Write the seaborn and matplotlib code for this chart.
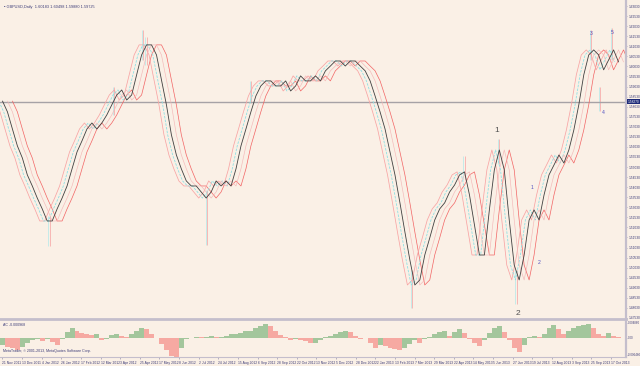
import numpy as np
import pandas as pd
import matplotlib
matplotlib.use("Agg")
import matplotlib.pyplot as plt
import matplotlib.transforms as mtransforms
import seaborn as sns

# ---------------- data ----------------
# middle (black) line, one value every 4 daily bars
price = [1.5831, 1.5777, 1.5692, 1.5608, 1.5548, 1.5464, 1.5409, 1.5349, 1.5295, 1.5235,
         1.5235, 1.5295, 1.5349, 1.5409, 1.5494, 1.5578, 1.5633, 1.5692, 1.5722, 1.5692,
         1.5722, 1.5762, 1.5812, 1.5861, 1.5886, 1.5836, 1.5861, 1.5961, 1.6060, 1.6110,
         1.6110, 1.6060, 1.5936, 1.5812, 1.5663, 1.5563, 1.5494, 1.5434, 1.5409, 1.5409,
         1.5379, 1.5349, 1.5379, 1.5434, 1.5409, 1.5434, 1.5409, 1.5494, 1.5608, 1.5692,
         1.5777, 1.5856, 1.5906, 1.5931, 1.5931, 1.5906, 1.5906, 1.5931, 1.5881, 1.5906,
         1.5956, 1.5931, 1.5931, 1.5956, 1.5931, 1.5981, 1.6005, 1.6030, 1.6030, 1.6005,
         1.6030, 1.6030, 1.6005, 1.5981, 1.5931, 1.5856, 1.5777, 1.5692, 1.5578, 1.5464,
         1.5325, 1.5180, 1.5041, 1.4917, 1.4942, 1.5066, 1.5151, 1.5240, 1.5295, 1.5325,
         1.5379, 1.5414, 1.5464, 1.5479, 1.5364, 1.5215, 1.5066, 1.5066, 1.5290, 1.5489,
         1.5588, 1.5489, 1.5240, 1.5016, 1.4942, 1.5066, 1.5240, 1.5290, 1.5240, 1.5364,
         1.5464, 1.5513, 1.5563, 1.5523, 1.5588, 1.5687, 1.5812, 1.5961, 1.6060, 1.6085,
         1.6060, 1.5986, 1.6035, 1.6085, 1.6025]

# long wicks seen as thin vertical strokes: bar, high, low
spike_bar = [38, 90, 113, 116, 165, 200, 330, 372, 400, 414, 474, 481, 491]
spike_high = [1.5260, 1.5900, 1.6184, 1.6150, 1.5389, 1.5930, 1.4992, 1.5560, 1.5640, 1.4992, 1.6184, 1.5900, 1.6194]
spike_low = [1.5110, 1.5760, 1.6035, 1.6010, 1.5116, 1.5820, 1.4803, 1.5440, 1.5520, 1.4823, 1.6035, 1.5780, 1.6035]

# Accelerator Oscillator (AC) histogram, same spacing
ac = [-0.00259, -0.00324, -0.00356, -0.00421, -0.00324, -0.00194, -0.00097, -0.00065, -0.00130, -0.00065,
      -0.00162, -0.00259, -0.00032, 0.00194, 0.00324, 0.00227, 0.00162, 0.00130, 0.00097, 0.00130,
      -0.00097, -0.00065, 0.00097, 0.00130, 0.00065, 0.00010, 0.00130, 0.00227, 0.00324, 0.00292,
      0.00130, -0.00010, -0.00227, -0.00421, -0.00616, -0.00648, -0.00356, -0.00065, -0.00010, 0.00032,
      0.00010, 0.00032, 0.00065, 0.00032, 0.00032, 0.00065, 0.00130, 0.00130, 0.00162, 0.00227,
      0.00227, 0.00324, 0.00389, 0.00454, 0.00389, 0.00227, 0.00097, 0.00010, -0.00097, -0.00065,
      -0.00097, -0.00130, -0.00194, -0.00194, -0.00097, 0.00010, 0.00065, 0.00130, 0.00194, 0.00227,
      0.00194, 0.00065, -0.00032, -0.00010, -0.00194, -0.00356, -0.00259, -0.00292, -0.00356, -0.00389,
      -0.00421, -0.00356, -0.00227, -0.00097, -0.00194, -0.00065, 0.00032, 0.00130, 0.00194, 0.00227,
      0.00065, 0.00194, 0.00292, 0.00162, -0.00032, -0.00194, -0.00292, -0.00097, 0.00162, 0.00324,
      0.00389, 0.00194, -0.00097, -0.00356, -0.00486, -0.00259, 0.00010, 0.00065, 0.00010, 0.00130,
      0.00324, 0.00421, 0.00292, 0.00130, 0.00227, 0.00324, 0.00389, 0.00421, 0.00454, 0.00324,
      0.00130, 0.00065, 0.00162, 0.00065, 0.00010]

date_labels = ["21 Nov 2011", "13 Dec 2011", "4 Jan 2012", "26 Jan 2012", "17 Feb 2012",
               "12 Mar 2012", "3 Apr 2012", "25 Apr 2012", "17 May 2012", "8 Jun 2012",
               "2 Jul 2012", "24 Jul 2012", "15 Aug 2012", "6 Sep 2012", "28 Sep 2012",
               "22 Oct 2012", "13 Nov 2012", "5 Dec 2012", "28 Dec 2012", "22 Jan 2013",
               "13 Feb 2013", "7 Mar 2013", "29 Mar 2013", "22 Apr 2013", "14 May 2013",
               "5 Jun 2013", "27 Jun 2013", "19 Jul 2013", "12 Aug 2013", "3 Sep 2013",
               "25 Sep 2013", "17 Oct 2013"]

price_ticks = [1.47530, 1.48030, 1.48530, 1.49030, 1.49530, 1.50030, 1.50530, 1.51030,
               1.51530, 1.52030, 1.52530, 1.53030, 1.53530, 1.54030, 1.54530, 1.55030,
               1.55530, 1.56030, 1.56530, 1.57030, 1.57530, 1.58030, 1.58530, 1.59030,
               1.59530, 1.60030, 1.60530, 1.61030, 1.61530, 1.62030, 1.62530, 1.63030]
ac_ticks = [0.004860, 0.0, -0.005800]
ac_tick_labels = ["0.004860", "0.00", "-0.006480"]
bid = 1.58270

# wave labels (text, bar, price)
big_labels = [("1", 398, 1.5685), ("2", 415, 1.4776)]
small_labels = [("1", 426, 1.5399), ("2", 432, 1.5031), ("3", 474, 1.6169),
                ("4", 484, 1.5772), ("5", 491, 1.6174)]

# ---------------- style ----------------
BG = "#FAF0E6"
AXC = "#C4BECC"
TXT = "#3C3C78"
sns.set_theme(style="white", rc={"axes.facecolor": BG, "figure.facecolor": BG})
plt.rcParams["font.family"] = ["Liberation Sans", "DejaVu Sans"]

W, H = 640, 366
fig = plt.figure(figsize=(W / 100, H / 100), dpi=100, facecolor=BG)
ax = fig.add_axes([0, (H - 319) / H, 626 / W, 319 / H])
ax2 = fig.add_axes([0, (H - 357) / H, 626 / W, 36 / H], sharex=ax)

bars = np.arange(len(price)) * 4
df = pd.DataFrame({"bar": bars, "price": price})

# wicks
ax.vlines(spike_bar, spike_low, spike_high, colors="#F6A0A0", linewidth=0.5, zorder=1)
ax.vlines(np.array(spike_bar) - 1, spike_low, spike_high, colors="#9EE6EA",
          linewidth=0.4, zorder=1)

# shifted copies (Alligator-like lines)
line_specs = [
    (8, "#F26464", "-", 0.5),
    (-6, "#F8A4A4", "-", 0.55),
    (-3, "#8FE0E4", (0, (3, 1.5)), 0.6),
    (4, "#F4B8B8", "-", 0.45),
    (0, "#404040", "-", 0.6),
]
for shift, col, ls, lw in line_specs:
    d = df.assign(bar=df["bar"] + shift)
    sns.lineplot(data=d, x="bar", y="price", color=col, linewidth=lw,
                 linestyle=ls, ax=ax, legend=False)

ax.axhline(bid, color="#A6A2A6", lw=1.0, zorder=1)

for t, b, p in big_labels:
    ax.text(b, p, t, fontsize=6, color="#505050", ha="center", va="center")
for t, b, p in small_labels:
    ax.text(b, p, t, fontsize=3.6, color="#5050C0", ha="center", va="center")

ax.set_xlim(-2, 502)
ax.set_ylim(1.4748, 1.6333)
ax.set_xlabel("")
ax.set_ylabel("")
ax.yaxis.tick_right()
ax.set_yticks(price_ticks)
ax.set_yticklabels([f"{v:.5f}" for v in price_ticks])
ax.tick_params(axis="y", right=True, length=1.0, width=0.4, color="#8080A0",
               labelsize=2.3, labelcolor=TXT, pad=0.6)
ax.tick_params(axis="x", bottom=False, labelbottom=False)
for s in ["top", "left"]:
    ax.spines[s].set_visible(False)
ax.spines["right"].set_color(AXC)
ax.spines["right"].set_linewidth(1.6)
ax.spines["bottom"].set_color(AXC)
ax.spines["bottom"].set_linewidth(2.0)

# bid label box
tr = mtransforms.blended_transform_factory(ax.transAxes, ax.transData)
ax.text(1.002, bid, f"{bid:.5f}", transform=tr, fontsize=2.3, color="white",
        va="center", ha="left", clip_on=False,
        bbox=dict(boxstyle="square,pad=0.2", fc="#1E2A78", ec="none"))

ax.text(0.006, 0.985, "\u25aa GBPUSD,Daily  1.60183 1.60498 1.59880 1.59725",
        transform=ax.transAxes, fontsize=2.8, color=TXT, ha="left", va="top")

# ---------------- AC histogram ----------------
ac_arr = np.array(ac)
up = np.r_[True, ac_arr[1:] >= ac_arr[:-1]]
colors = np.where(up, "#A3C69C", "#F6A9A2")
ax2.bar(bars, ac_arr, width=4.0, color=colors, edgecolor="none", align="center")
ax2.set_ylim(-0.00648, 0.00551)
ax2.yaxis.tick_right()
ax2.set_yticks(ac_ticks)
ax2.set_yticklabels(ac_tick_labels)
ax2.tick_params(axis="y", right=True, length=1.0, width=0.4, color="#8080A0",
                labelsize=2.1, labelcolor=TXT, pad=0.6)
ax2.set_xticks(np.arange(len(date_labels)) * 15.8)
ax2.set_xticklabels(date_labels, ha="left")
ax2.tick_params(axis="x", bottom=True, length=1.5, width=0.4, color="#8080A0",
                labelsize=2.4, labelcolor=TXT, pad=1.5)
for s in ["top", "left"]:
    ax2.spines[s].set_visible(False)
ax2.spines["right"].set_color(AXC)
ax2.spines["right"].set_linewidth(1.6)
ax2.spines["bottom"].set_color(AXC)
ax2.spines["bottom"].set_linewidth(0.8)
ax2.text(0.004, 0.95, "AC -0.000968", transform=ax2.transAxes, fontsize=2.6,
         color=TXT, ha="left", va="top")
ax2.text(0.004, 0.12, "MetaTrader, \u00a9 2001-2013, MetaQuotes Software Corp.",
         transform=ax2.transAxes, fontsize=2.6, color=TXT, ha="left", va="bottom")

fig.savefig("out.png", dpi=100, facecolor=BG)
